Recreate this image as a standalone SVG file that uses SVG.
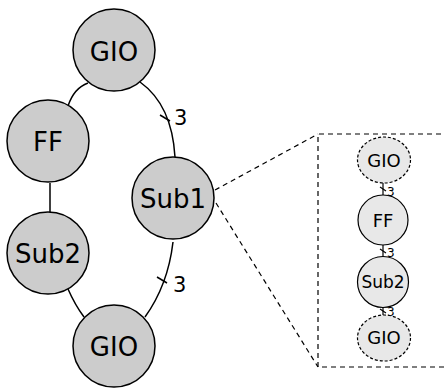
<svg xmlns="http://www.w3.org/2000/svg" width="445" height="388" viewBox="0 0 445 388">
<style>
.big circle{fill:#cccccc;stroke:#000;stroke-width:1.5}
.big text{font-family:"DejaVu Sans",sans-serif;font-size:26px;text-anchor:middle;fill:#000}
.sm circle,.sm ellipse{fill:#e8e8e8;stroke:#000;stroke-width:1.2}
.sm ellipse{stroke-dasharray:3 2}
.sm text{font-family:"DejaVu Sans",sans-serif;font-size:18px;text-anchor:middle;fill:#000}
.e{fill:none;stroke:#000;stroke-width:1.5}
.es{fill:none;stroke:#000;stroke-width:1.2}
.lbl{font-family:"DejaVu Sans",sans-serif;font-size:21px;fill:#000}
.lbls{font-family:"DejaVu Sans",sans-serif;font-size:12px;fill:#000}
.d{fill:none;stroke:#000;stroke-width:1.2;stroke-dasharray:5 4}
</style>
<g id="connectors">
<path class="e" d="M88,83 Q74,88 68,106"/>
<path class="e" d="M140,82 Q172,105 175,157"/>
<path class="e" d="M160,115 L170,121"/>
<text class="lbl" x="174" y="125">3</text>
<path class="e" d="M50,183 L50,213"/>
<path class="e" d="M173,242 Q168,285 145,317"/>
<path class="e" d="M157,277 L167,283"/>
<text class="lbl" x="173" y="292">3</text>
<path class="e" d="M68,289 Q75,305 84,317"/>
<path class="d" d="M215,190 L318,134"/>
<path class="d" d="M216,203 L318,367"/>
<path class="d" d="M450,134 L318,134 L318,367 L450,367"/>
<path class="es" d="M383,183 L383,195"/>
<path class="es" d="M380,187 L386,191"/>
<text class="lbls" x="387" y="196">3</text>
<path class="es" d="M383,245 L383,257"/>
<path class="es" d="M380,249 L386,253"/>
<text class="lbls" x="387" y="257">3</text>
<path class="es" d="M383,307 L383,315"/>
<path class="es" d="M380,309 L386,313"/>
<text class="lbls" x="387" y="316">3</text>
</g>
<g id="gio-top" class="big"><circle cx="114" cy="50" r="41"/><text x="114" y="61">GIO</text></g>
<g id="ff" class="big"><circle cx="48" cy="141" r="41"/><text x="48" y="151">FF</text></g>
<g id="sub1" class="big"><circle cx="173" cy="198" r="41"/><text x="173" y="208">Sub1</text></g>
<g id="sub2" class="big"><circle cx="48" cy="253" r="41"/><text x="48" y="263">Sub2</text></g>
<g id="gio-bottom" class="big"><circle cx="114" cy="346" r="41"/><text x="114" y="356">GIO</text></g>
<g id="s-gio-top" class="sm"><ellipse cx="384" cy="160" rx="26.5" ry="23"/><text x="384" y="167">GIO</text></g>
<g id="s-ff" class="sm"><circle cx="383" cy="220" r="25"/><text x="383" y="227">FF</text></g>
<g id="s-sub2" class="sm"><circle cx="383" cy="282" r="25.5"/><text x="383" y="288" style="font-size:17px">Sub2</text></g>
<g id="s-gio-bottom" class="sm"><ellipse cx="384" cy="338" rx="26.5" ry="23"/><text x="384" y="344">GIO</text></g>
</svg>
